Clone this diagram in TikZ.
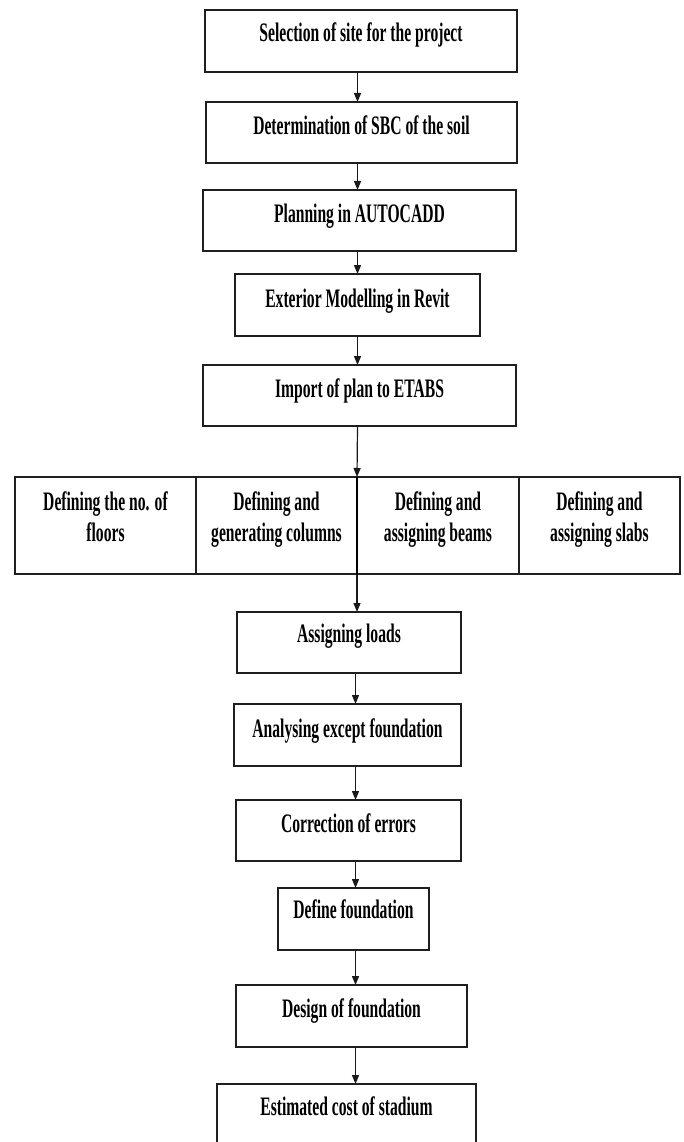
\documentclass[tikz,border=0pt]{standalone}
\usepackage{fontspec}
\newfontfamily\lab{Liberation Serif}[FakeStretch=0.585]
\usetikzlibrary{arrows.meta}
\begin{document}
\begin{tikzpicture}[x=1pt,y=-1pt,
  box/.style={draw=black!88, line width=1.5pt, inner sep=0pt, outer sep=0pt,
    align=center, font=\lab\bfseries\fontsize{26.7}{31}\selectfont},
  cell/.style={box, align=flush center, minimum height=97pt, text height=33pt, text depth=64pt},
  arr/.style={draw=black!90, line width=1.2pt, -{Triangle[length=9pt,width=7pt]}}]
\fill[white] (0,0) rectangle (683,1142);
\useasboundingbox (0,0) rectangle (683,1142);
\node[box, minimum width=312pt, text height=32pt, text depth=30pt] (b1) at (361,41) {Selection of site for the project};
\node[box, minimum width=311pt, text height=33pt, text depth=28pt] (b2) at (361.5,132.5) {Determination of SBC of the soil};
\node[box, minimum width=313pt, text height=32pt, text depth=29pt] (b3) at (359.5,220.5) {Planning in AUTOCADD};
\node[box, minimum width=245pt, text height=33pt, text depth=29pt] (b4) at (357.5,305) {Exterior Modelling in Revit};
\node[box, minimum width=313pt, text height=32pt, text depth=29pt] (b5) at (359.5,395.5) {Import of plan to ETABS};
\node[cell, minimum width=181pt, text width=175pt] (c1) at (105.5,525.5) {Defining the no. of\\floors};
\node[cell, minimum width=161pt, text width=158pt] (c2) at (276.5,525.5) {Defining and\\generating columns};
\node[cell, minimum width=162pt, text width=158pt] (c3) at (438,525.5) {Defining and\\assigning beams};
\node[cell, minimum width=161pt, text width=158pt] (c4) at (599.5,525.5) {Defining and\\assigning slabs};
\draw[black, line width=2.4pt] (c2.north east) -- (c2.south east);
\node[box, minimum width=224pt, text height=30pt, text depth=31pt] (a1) at (349,642.5) {Assigning loads};
\node[box, minimum width=227pt, text height=33pt, text depth=29pt] (a2) at (347.5,735) {Analysing except foundation};
\node[box, minimum width=225pt, text height=32pt, text depth=29pt] (a3) at (348.5,830.5) {Correction of errors};
\node[box, minimum width=151pt, text height=30pt, text depth=32pt] (a4) at (353.5,919) {Define foundation};
\node[box, minimum width=231pt, text height=32pt, text depth=30pt] (a5) at (351.5,1016) {Design of foundation};
\node[box, minimum width=259pt, text height=31pt, text depth=31pt] (a6) at (346.5,1115) {Estimated cost of stadium};
\coordinate (ax) at (357.5,0);
\coordinate (bx) at (355.5,0);
\draw[arr] (b1.south -| ax) -- (b2.north -| ax);
\draw[arr] (b2.south -| ax) -- (b3.north -| ax);
\draw[arr] (b3.south -| ax) -- (b4.north -| ax);
\draw[arr] (b4.south -| ax) -- (b5.north -| ax);
\draw[arr] (b5.south -| ax) -- (c2.north east);
\draw[arr] (c2.south east) -- (a1.north -| c2.east);
\draw[arr] (a1.south -| bx) -- (a2.north -| bx);
\draw[arr] (a2.south -| bx) -- (a3.north -| bx);
\draw[arr] (a3.south -| bx) -- (a4.north -| bx);
\draw[arr] (a4.south -| bx) -- (a5.north -| bx);
\draw[arr] (a5.south -| bx) -- (a6.north -| bx);
\end{tikzpicture}
\end{document}
